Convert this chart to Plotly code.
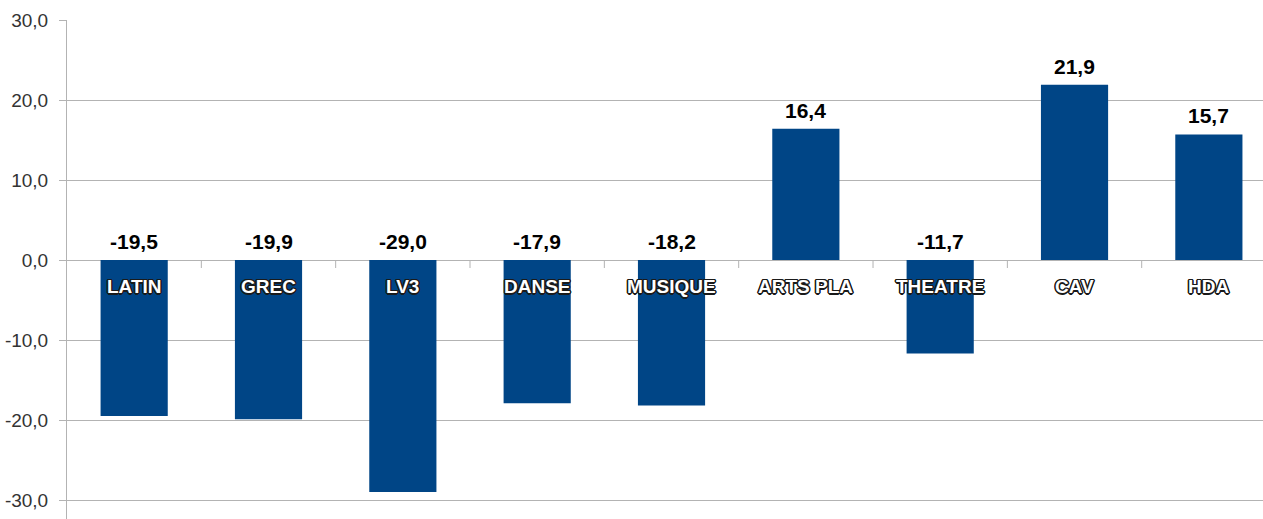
import plotly.graph_objects as go

categories = ["LATIN", "GREC", "LV3", "DANSE", "MUSIQUE", "ARTS PLA", "THEATRE", "CAV", "HDA"]
values = [-19.5, -19.9, -29.0, -17.9, -18.2, 16.4, -11.7, 21.9, 15.7]
y_ticks = [-30, -20, -10, 0, 10, 20, 30]
y_tick_labels = ["-30,0", "-20,0", "-10,0", "0,0", "10,0", "20,0", "30,0"]

BAR_COLOR = "#004586"
GRID_COLOR = "#b3b3b3"
FONT = "Liberation Sans, Arial, sans-serif"

x_pos = list(range(len(categories)))

fig = go.Figure()

fig.add_trace(go.Bar(
    x=x_pos,
    y=values,
    width=0.5,
    marker=dict(color=BAR_COLOR, line=dict(width=0)),
    showlegend=False,
    hoverinfo="skip",
))

# value labels above bar top (or above zero line for negative bars)
for i, v in enumerate(values):
    fig.add_annotation(
        x=i, y=max(v, 0), xref="x", yref="y",
        text=f"{v:.1f}".replace(".", ","),
        showarrow=False, yanchor="bottom", yshift=5,
        font=dict(family=FONT, size=21, color="#000000", weight="bold"),
    )

# category labels on zero line, white text with dark outline
d = "#1a1a1a"
outline = ", ".join(f"{dx}px {dy}px 0 {d}" for dx, dy in
                    [(1, 1), (-1, -1), (1, -1), (-1, 1), (0, 1), (0, -1), (1, 0), (-1, 0),
                     (1.5, 0), (-1.5, 0), (0, 1.5), (0, -1.5)])
for i, c in enumerate(categories):
    fig.add_annotation(
        x=i, y=0, xref="x", yref="y",
        text=c, showarrow=False, yanchor="middle", yshift=-26,
        font=dict(family=FONT, size=19, color="#ffffff", weight="bold", shadow=outline),
    )

# small tick marks at category boundaries below the zero line
for i in range(len(categories)):
    fig.add_shape(
        type="line", xref="x", yref="y",
        x0=i + 0.5, x1=i + 0.5, y0=0, y1=-1.0,
        line=dict(color=GRID_COLOR, width=1),
    )

fig.update_layout(
    width=1263,
    height=519,
    margin=dict(l=67, r=0, t=20, b=0),
    paper_bgcolor="#ffffff",
    plot_bgcolor="#ffffff",
    xaxis=dict(
        range=[-0.5, 8.403],
        showticklabels=False,
        showgrid=False,
        zeroline=False,
        showline=False,
        ticks="",
        fixedrange=True,
    ),
    yaxis=dict(
        range=[-32.375, 30],
        tickvals=y_ticks,
        ticktext=y_tick_labels,
        showgrid=True,
        gridcolor=GRID_COLOR,
        gridwidth=1,
        zeroline=True,
        zerolinecolor=GRID_COLOR,
        zerolinewidth=1,
        showline=True,
        linecolor=GRID_COLOR,
        linewidth=1,
        ticks="outside",
        ticklen=7,
        tickcolor=GRID_COLOR,
        ticklabelstandoff=7,
        tickfont=dict(family=FONT, size=19, color="#333333"),
        automargin=False,
        fixedrange=True,
    ),
)

fig.write_html("out.html", config={"displayModeBar": False},
               post_script="document.body.style.margin = '0';")
